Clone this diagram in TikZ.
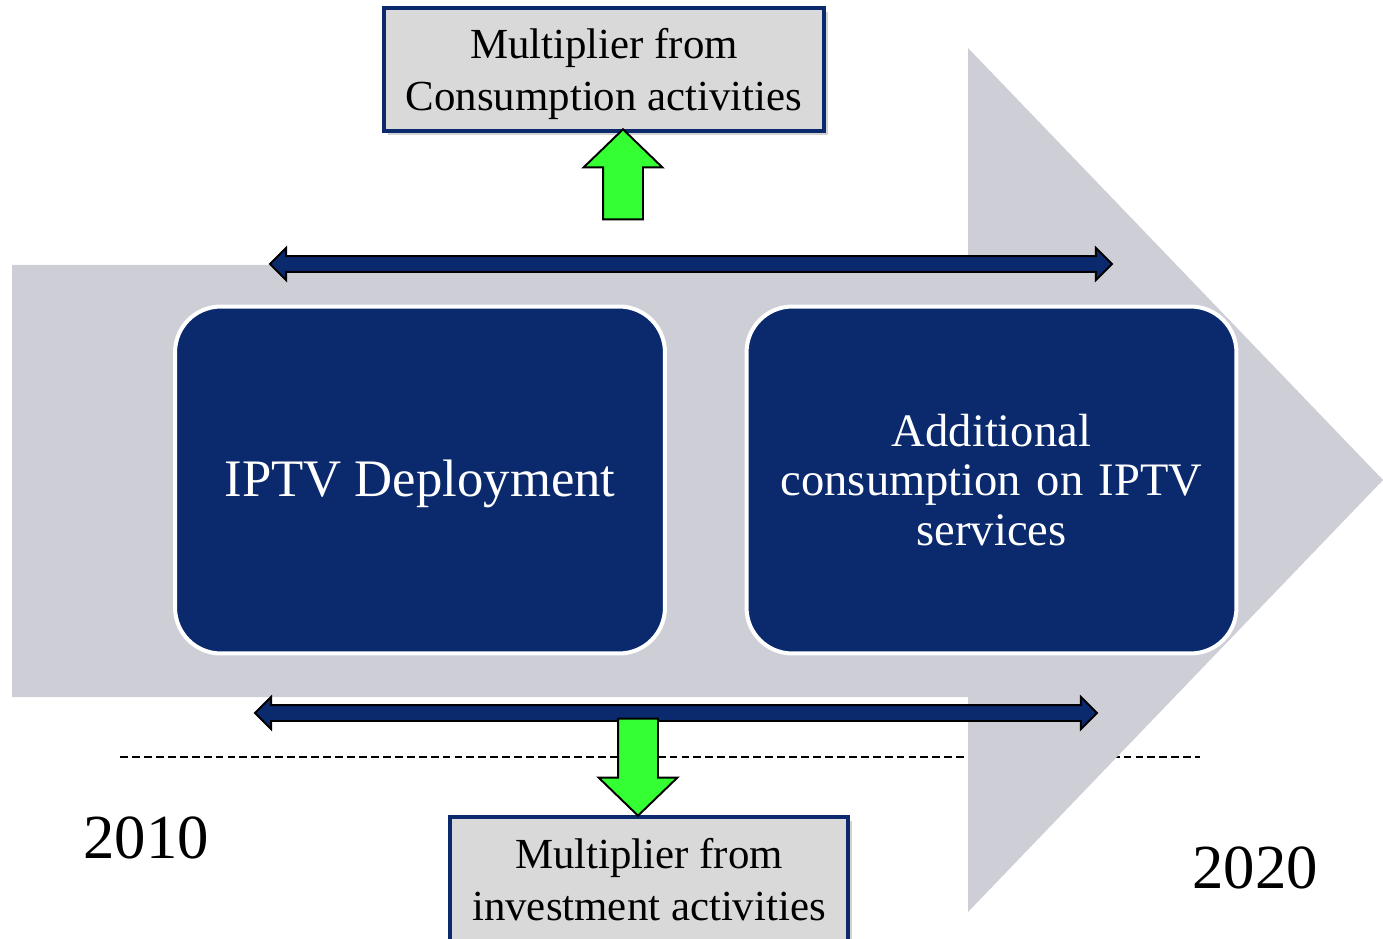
\documentclass[tikz,border=0pt]{standalone}
\usepackage{fontspec}
\setmainfont{Liberation Serif}
\usepackage{tikz}
\usetikzlibrary{shapes.arrows}
\usetikzlibrary{shadows}

\definecolor{navy}{HTML}{0B2A6E}
\definecolor{arrowgray}{HTML}{CDCED6}
\definecolor{boxgray}{HTML}{D9D9D9}
\definecolor{brightgreen}{HTML}{33FF33}

\tikzset{
  stagebox/.style={draw=white, line width=2.3pt, fill=navy, rounded corners=26pt,
    minimum width=9.8cm, minimum height=6.94cm, text=white, align=center},
  multbox/.style={draw=navy, line width=2.2pt, fill=boxgray, minimum width=8.8cm,
    minimum height=2.46cm, align=center, font=\fontsize{24.4}{29.5}\selectfont,
    drop shadow={shadow xshift=2.5pt, shadow yshift=-2.5pt, opacity=0.35}},
  spanarrow/.style={double arrow, draw=black, line width=1.1pt, fill=navy,
    minimum height=16.84cm, inner xsep=0pt, inner ysep=0.14cm,
    double arrow head extend=0.16cm, double arrow tip angle=90},
  growarrow/.style={single arrow, draw=black, line width=1.1pt, fill=brightgreen,
    inner xsep=0pt, inner ysep=0.38cm, single arrow head extend=0.39cm,
    single arrow tip angle=92, anchor=tip},
  yearlabel/.style={font=\fontsize{35.7}{40}\selectfont}
}

\begin{document}
\begin{tikzpicture}[x=0.02cm,y=-0.02cm]
    \useasboundingbox (0,0) rectangle (1383,939);

    \draw[dashed, line width=1.2pt, dash pattern=on 4.5pt off 2.3pt] (120,757) -- (1200,757);

    % timeline
    \fill[arrowgray] (12,265) -- (968,265) -- (968,48) -- (1383,480) -- (968,912) -- (968,697) -- (12,697) -- cycle;

    \node[stagebox, font=\fontsize{30}{34}\selectfont, text height=25.5pt] (deploy) at (420,480) {IPTV Deployment};
    \node[stagebox, font=\fontsize{26.5}{28.4}\selectfont, text width=9cm] (consume) at (991.5,480) {Additional\\consumption on IPTV\\services};

    \node[spanarrow] (topspan) at (691,264) {};
    \node[spanarrow] (botspan) at (676,713) {};

    \node[multbox, text height=52pt] (consmult) at (604,69.5) {Multiplier from\\Consumption activities};
    \node[multbox, minimum width=7.96cm, minimum height=2.5cm] (invmult) at (649,879.5) {Multiplier from\\investment activities};

    \node[growarrow, rotate=90, minimum height=1.8cm] (uparrow) at (623,128) {};
    \node[growarrow, rotate=-90, minimum height=1.94cm] (downarrow) at (638,817) {};

    \node[yearlabel] (start) at (146,838) {2010};
    \node[yearlabel] (end) at (1255,868) {2020};

\end{tikzpicture}
\end{document}
